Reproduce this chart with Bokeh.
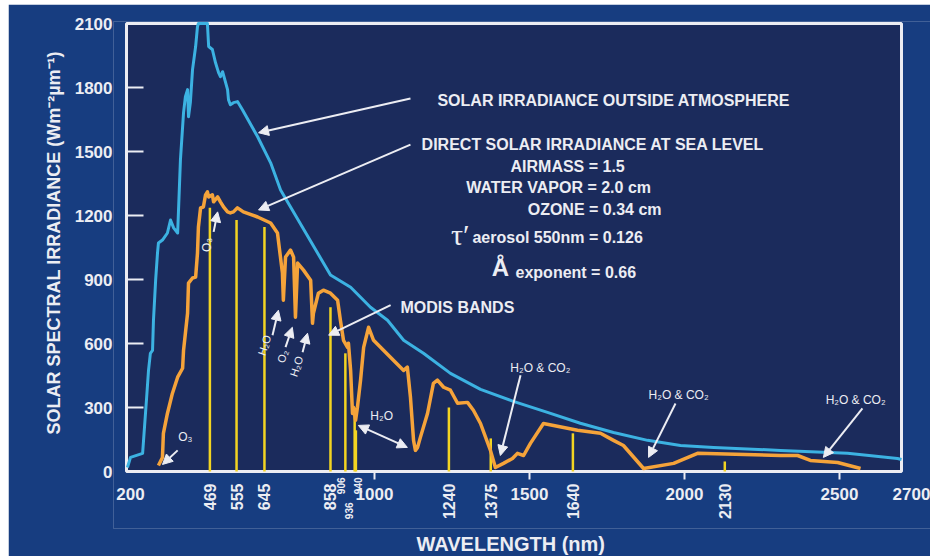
import math
from bokeh.plotting import figure
from bokeh.models import (Range1d, FixedTicker, Label, ColumnDataSource, Arrow, NormalHead, Title)
from bokeh.core.properties import value
from bokeh.embed import file_html
from bokeh.resources import INLINE

# ---------------- data ----------------
toa_wl = [203, 213, 252, 255, 265, 271, 277, 284, 287, 294, 300, 303, 316, 332, 342, 352,
          365, 374, 384, 390, 397, 400, 406, 413, 423, 429, 432, 461, 465, 477, 487, 494,
          497, 503, 510, 526, 529, 535, 545, 558, 574, 623, 665, 697, 858, 923, 987, 1042,
          1094, 1158, 1245, 1342, 1448, 1558, 1664, 1771, 1881, 1987, 2094, 2310, 2526,
          2687, 2700]
toa_irr = [19, 66, 85, 146, 348, 474, 554, 568, 709, 897, 1024, 1071, 1085, 1118, 1179, 1142,
           1118, 1461, 1682, 1757, 1790, 1663, 1729, 1884, 1992, 2086, 2100, 2100, 1992, 1978,
           1917, 1884, 1870, 1851, 1874, 1790, 1743, 1719, 1729, 1734, 1696, 1569, 1447, 1320,
           921, 864, 770, 709, 615, 554, 460, 385, 329, 277, 226, 183, 146, 122, 113, 99, 85,
           61, 56]

sea_wl = [303, 316, 319, 332, 348, 365, 381, 384, 397, 400, 413, 423, 429, 432, 439, 448,
          455, 461, 465, 477, 481, 494, 503, 513, 526, 535, 545, 558, 577, 623, 665, 687,
          703, 706, 713, 729, 739, 745, 752, 771, 794, 800, 803, 819, 835, 858, 881, 890,
          900, 913, 916, 923, 929, 932, 939, 945, 955, 965, 981, 997, 1029, 1061, 1094, 1106,
          1116, 1126, 1132, 1139, 1148, 1171, 1190, 1203, 1223, 1245, 1268, 1300, 1319, 1342,
          1374, 1390, 1416, 1445, 1461, 1481, 1503, 1545, 1655, 1729, 1771, 1803, 1868, 1965,
          2042, 2310, 2365, 2406, 2494, 2568]
sea_irr = [28, 66, 179, 272, 366, 442, 484, 568, 742, 883, 907, 911, 1024, 1146, 1236, 1240,
           1297, 1311, 1287, 1297, 1264, 1287, 1264, 1240, 1217, 1212, 1217, 1236, 1217, 1193,
           1165, 1118, 930, 803, 1005, 1038, 1005, 723, 977, 944, 897, 695, 742, 836, 850, 836,
           803, 709, 615, 582, 601, 474, 272, 301, 240, 301, 428, 582, 676, 615, 568, 521, 474,
           489, 348, 146, 99, 113, 160, 272, 413, 428, 395, 381, 320, 324, 287, 225, 99, 19,
           38, 61, 85, 75, 132, 225, 193, 179, 146, 122, 14, 38, 85, 75, 75, 52, 42, 14]

modis_bands = [469, 555, 645, 858, 906, 936, 940, 1240, 1375, 1640, 2130]
modis_heights = [1236, 1179, 1146, 770, 554, 300, 193, 300, 155, 179, 47]

band_labels_big = ["469", "555", "645", "858", "1240", "1375", "1640", "2130"]
band_labels_big_x = [469, 555, 645, 858, 1240, 1375, 1640, 2130]
band_labels_small = ["906", "936", "940"]
band_labels_small_x = [906, 936, 940]

x_min, x_max = 200, 2700
y_min, y_max = 0, 2100
x_ticks = [200, 1000, 1500, 2000, 2500, 2700]
x_tick_labels = ["200", "1000", "1500", "2000", "2500", "2700"]
y_ticks = [0, 300, 600, 900, 1200, 1500, 1800, 2100]

# ---------------- styling ----------------
OUTER = "#173d80"
INNER = "#1b2b5c"
WHITE = "#ecedf3"
BLUE = "#3cb2e2"
ORANGE = "#f5a33a"
YELLOW = "#f2d422"
FONT = "Liberation Sans"

NM_PER_PX = 2500 / 775.0
V_PER_PX = 2100 / 448.0

X_LO, X_HI = x_min - 13 * NM_PER_PX, x_max + 29 * NM_PER_PX
Y_LO, Y_HI = y_min - 57 * V_PER_PX, y_max + 2 * V_PER_PX

p = figure(width=922, height=552, x_range=Range1d(X_LO, X_HI), y_range=Range1d(Y_LO, Y_HI),
           output_backend="svg", toolbar_location=None, margin=(4, 0, 0, 8),
           min_border_left=105, min_border_right=0, min_border_top=17, min_border_bottom=28,
           background_fill_color=OUTER, border_fill_color=OUTER, outline_line_color=None)

p.xgrid.visible = False
p.ygrid.visible = False
p.xaxis.visible = False

# y axis (tick labels from the axis; tick marks drawn inside the panel)
ya = p.yaxis[0]
ya.ticker = FixedTicker(ticks=y_ticks)
ya.major_label_text_font = FONT
ya.major_label_text_font_style = "bold"
ya.major_label_text_font_size = "17px"
ya.major_label_text_color = WHITE
ya.major_label_standoff = 1
ya.major_tick_in = 0
ya.major_tick_out = 0
ya.minor_tick_line_color = None
ya.axis_line_color = None

# axis titles
p.add_layout(Title(text="SOLAR SPECTRAL IRRADIANCE (Wm\u207b\u00b2\u00b5m\u207b\u00b9)",
                   align="left", offset=94, standoff=16, text_font=FONT,
                   text_font_style="bold", text_font_size="18px", text_color=WHITE), "left")
p.add_layout(Title(text="WAVELENGTH (nm)", align="left", offset=303, standoff=4,
                   text_font=FONT, text_font_style="bold", text_font_size="20px",
                   text_color=WHITE), "below")

# backgrounds: outer panel, then the plot panel with its white frame
p.quad(left=[X_LO], right=[X_HI], bottom=[Y_LO], top=[Y_HI], fill_color=OUTER, line_color=None)
p.quad(left=[x_min], right=[x_max], bottom=[y_min], top=[y_max],
       fill_color=INNER, line_color=WHITE, line_width=3)

# y tick marks (inside)
p.segment(x0=[x_min] * len(y_ticks), y0=y_ticks, x1=[x_min + 17 * NM_PER_PX] * len(y_ticks),
          y1=y_ticks, line_color=WHITE, line_width=2)

# MODIS band lines
p.segment(x0=modis_bands, y0=[0] * len(modis_bands), x1=modis_bands, y1=modis_heights,
          line_color=YELLOW, line_width=2.5)

# spectra
p.line(toa_wl, toa_irr, line_color=BLUE, line_width=3, line_join="round")
p.line(sea_wl, sea_irr, line_color=ORANGE, line_width=3.5, line_join="round")

# x tick marks and labels
inner_ticks = [t for t in x_ticks if x_min < t < x_max]
p.segment(x0=inner_ticks, y0=[0] * len(inner_ticks), x1=inner_ticks,
          y1=[-8 * V_PER_PX] * len(inner_ticks), line_color=WHITE, line_width=2)
xt_src = ColumnDataSource(dict(x=x_ticks, t=x_tick_labels, dx=[4, 0, 0, 0, 0, 10]))
p.text(x="x", y=-16 * V_PER_PX, text="t", x_offset="dx", source=xt_src,
       text_font=value(FONT), text_font_style="bold", text_font_size="17px",
       text_color=WHITE, text_align="center", text_baseline="top")

# band labels (rotated)
p.text(x=band_labels_big_x, y=[-12 * V_PER_PX] * len(band_labels_big_x), text=band_labels_big,
       angle=math.pi / 2, text_font=value(FONT), text_font_style="bold",
       text_font_size="16px", text_color=WHITE, text_align="right", text_baseline="middle")
small_src = ColumnDataSource(dict(x=band_labels_small_x,
                                  y=[-6 * V_PER_PX, -31 * V_PER_PX, -6 * V_PER_PX],
                                  t=band_labels_small, dx=[-4, -6, 2]))
p.text(x="x", y="y", text="t", x_offset="dx", source=small_src, angle=math.pi / 2,
       text_font=value(FONT), text_font_style="bold", text_font_size="10px",
       text_color=WHITE, text_align="right", text_baseline="middle")


def txt(x, y, t, size="16px", align="left", angle=0.0, font=FONT, style="bold"):
    p.add_layout(Label(x=x, y=y, text=t, text_font=font, text_font_style=style,
                       text_font_size=size, text_color=WHITE, text_align=align,
                       text_baseline="middle", angle=angle))


def arrow(x0, y0, x1, y1, both=False):
    head = NormalHead(size=10, fill_color=WHITE, line_color=WHITE, line_width=1)
    start = NormalHead(size=10, fill_color=WHITE, line_color=WHITE, line_width=1) if both else None
    p.add_layout(Arrow(x_start=x0, y_start=y0, x_end=x1, y_end=y1, end=head, start=start,
                       line_color=WHITE, line_width=2))


# annotations
txt(1203, 1738, "SOLAR IRRADIANCE OUTSIDE ATMOSPHERE")
arrow(1116, 1748, 626, 1588)
txt(1152, 1532, "DIRECT SOLAR IRRADIANCE AT SEA LEVEL")
arrow(1116, 1532, 626, 1226)
txt(1623, 1428, "AIRMASS = 1.5", align="center")
txt(1594, 1330, "WATER VAPOR = 2.0 cm", align="center")
txt(1710, 1226, "OZONE = 0.34 cm", align="center")
txt(1277, 1110, "\u03c4\u2032", size="30px", align="center", font="Liberation Serif", style="normal")
txt(1316, 1099, "aerosol 550nm = 0.126")
txt(1406, 955, "\u00c5", size="24px", align="center")
txt(1455, 935, "exponent = 0.66")
txt(1084, 770, "MODIS BANDS")
arrow(1052, 780, 852, 639)

txt(390, 160, "O\u2083", size="12px", align="center", style="normal")
arrow(365, 99, 316, 33)
txt(461, 1062, "O\u2083", size="12px", align="center", angle=math.pi / 2, style="normal")
arrow(481, 1123, 494, 1217)

txt(645, 592, "H\u2082O", size="11px", align="center", angle=1.25, style="normal")
arrow(671, 639, 690, 756)
txt(703, 540, "O\u2082", size="11px", align="center", angle=1.25, style="normal")
arrow(713, 583, 735, 676)
txt(748, 493, "H\u2082O", size="11px", align="center", angle=1.25, style="normal")
arrow(768, 559, 784, 648)

txt(1023, 258, "H\u2082O", size="12px", align="center", style="normal")
arrow(948, 216, 1106, 113, both=True)

txt(1535, 484, "H\u2082O & CO\u2082", size="12px", align="center", style="normal")
arrow(1471, 451, 1406, 75)
txt(1981, 357, "H\u2082O & CO\u2082", size="12px", align="center", style="normal")
arrow(1971, 319, 1884, 66)
txt(2552, 334, "H\u2082O & CO\u2082", size="12px", align="center", style="normal")
arrow(2574, 296, 2448, 66)

open("out.html", "w").write(file_html(p, INLINE))
